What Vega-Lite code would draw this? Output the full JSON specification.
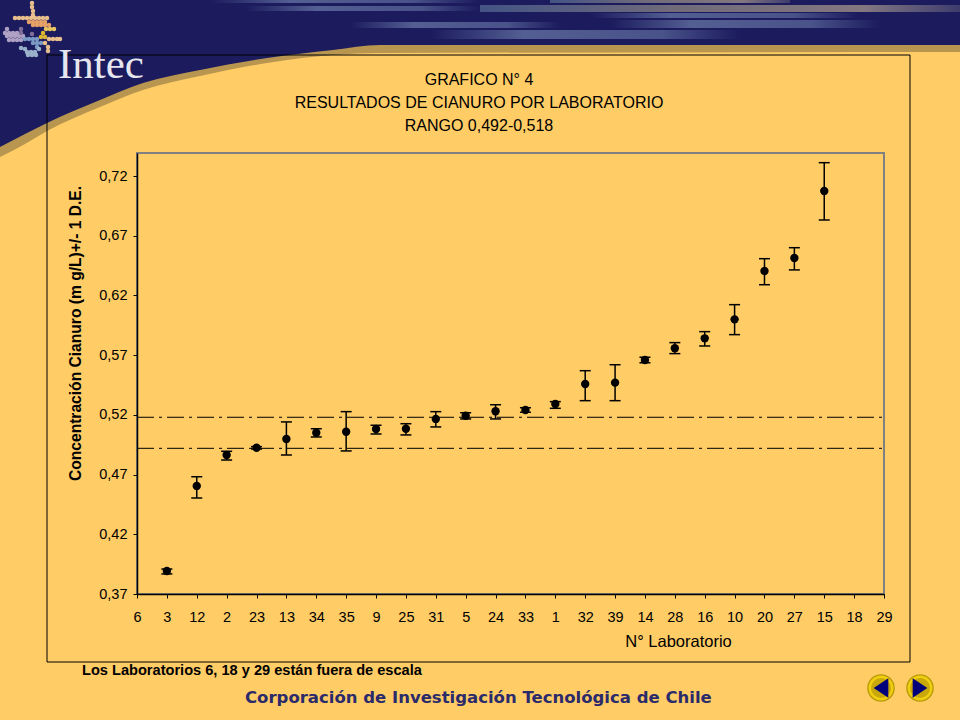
{
  "$schema": "https://vega.github.io/schema/vega-lite/v6.json",
  "autosize": {"type": "none"},
  "padding": {"left": 137, "top": 153, "right": 76, "bottom": 126},
  "width": 747,
  "height": 441,
  "background": "#FFCC66",
  "datasets": {
    "labs": [
      {"lab": "3", "conc": 0.3893, "hi": 0.3909, "lo": 0.3868},
      {"lab": "12", "conc": 0.4605, "hi": 0.4682, "lo": 0.4504},
      {"lab": "2", "conc": 0.4864, "hi": 0.4895, "lo": 0.4822},
      {"lab": "23", "conc": 0.4925, "hi": 0.4934, "lo": 0.4914},
      {"lab": "13", "conc": 0.4998, "hi": 0.5141, "lo": 0.4864},
      {"lab": "34", "conc": 0.5051, "hi": 0.5084, "lo": 0.5015},
      {"lab": "35", "conc": 0.5059, "hi": 0.5227, "lo": 0.4898},
      {"lab": "9", "conc": 0.5082, "hi": 0.5113, "lo": 0.504},
      {"lab": "25", "conc": 0.5084, "hi": 0.5126, "lo": 0.5032},
      {"lab": "31", "conc": 0.5166, "hi": 0.5227, "lo": 0.5099},
      {"lab": "5", "conc": 0.5193, "hi": 0.5218, "lo": 0.5166},
      {"lab": "24", "conc": 0.523, "hi": 0.5285, "lo": 0.5166},
      {"lab": "33", "conc": 0.5241, "hi": 0.526, "lo": 0.5222},
      {"lab": "1", "conc": 0.5291, "hi": 0.5311, "lo": 0.5255},
      {"lab": "32", "conc": 0.5459, "hi": 0.557, "lo": 0.5319},
      {"lab": "39", "conc": 0.547, "hi": 0.562, "lo": 0.5319},
      {"lab": "14", "conc": 0.566, "hi": 0.5682, "lo": 0.5637},
      {"lab": "28", "conc": 0.5758, "hi": 0.5805, "lo": 0.5713},
      {"lab": "16", "conc": 0.5841, "hi": 0.5897, "lo": 0.5777},
      {"lab": "10", "conc": 0.6, "hi": 0.6123, "lo": 0.5872},
      {"lab": "20", "conc": 0.6405, "hi": 0.6508, "lo": 0.629},
      {"lab": "27", "conc": 0.6514, "hi": 0.66, "lo": 0.6414},
      {"lab": "15", "conc": 0.7075, "hi": 0.7312, "lo": 0.6832}
    ],
    "rango": [{"limite": 0.518}, {"limite": 0.492}],
    "banner": [
      {"px": 0, "navy": 147, "sombra": 157},
      {"px": 25, "navy": 134, "sombra": 144},
      {"px": 47, "navy": 123, "sombra": 131},
      {"px": 100, "navy": 100, "sombra": 107},
      {"px": 143, "navy": 83, "sombra": 90},
      {"px": 200, "navy": 70, "sombra": 76},
      {"px": 267, "navy": 58, "sombra": 63},
      {"px": 333, "navy": 50, "sombra": 55},
      {"px": 380, "navy": 45, "sombra": 53},
      {"px": 960, "navy": 45, "sombra": 52}
    ],
    "estelas": [
      {"tono": "azul", "px": 210, "px2": 480, "py": 0, "py2": 3},
      {"tono": "azul", "px": 245, "px2": 480, "py": 6, "py2": 11},
      {"tono": "azul", "px": 350, "px2": 560, "py": 22, "py2": 28},
      {"tono": "azul", "px": 430, "px2": 740, "py": 30, "py2": 39},
      {"tono": "azul", "px": 590, "px2": 860, "py": 13, "py2": 18},
      {"tono": "azul", "px": 610, "px2": 880, "py": 20, "py2": 28},
      {"tono": "tibio", "px": 480, "px2": 960, "py": 5, "py2": 12},
      {"tono": "tibio", "px": 550, "px2": 790, "py": 0, "py2": 3}
    ],
    "marco": [{"px": 47, "px2": 910, "py": 55, "py2": 662}],
    "puntos": [
      {"px": 32, "py": 3, "tono": "durazno"}, {"px": 32, "py": 7, "tono": "durazno"},
      {"px": 33, "py": 11, "tono": "durazno"}, {"px": 33, "py": 15, "tono": "durazno"},
      {"px": 15, "py": 18, "tono": "durazno"}, {"px": 19, "py": 18, "tono": "durazno"},
      {"px": 23, "py": 18, "tono": "durazno"}, {"px": 27, "py": 18, "tono": "durazno"},
      {"px": 31, "py": 18, "tono": "durazno"}, {"px": 35, "py": 18, "tono": "durazno"},
      {"px": 39, "py": 18, "tono": "durazno"}, {"px": 43, "py": 18, "tono": "durazno"},
      {"px": 47, "py": 18, "tono": "durazno"},
      {"px": 29, "py": 22, "tono": "naranja"}, {"px": 33, "py": 22, "tono": "naranja"},
      {"px": 37, "py": 22, "tono": "naranja"}, {"px": 41, "py": 22, "tono": "naranja"},
      {"px": 45, "py": 22, "tono": "naranja"}, {"px": 33, "py": 25, "tono": "naranja"},
      {"px": 37, "py": 25, "tono": "naranja"}, {"px": 41, "py": 25, "tono": "naranja"},
      {"px": 45, "py": 25, "tono": "naranja"}, {"px": 49, "py": 25, "tono": "naranja"},
      {"px": 46, "py": 29, "tono": "amarillo"}, {"px": 50, "py": 29, "tono": "amarillo"},
      {"px": 54, "py": 29, "tono": "amarillo"},
      {"px": 7, "py": 29, "tono": "lila"}, {"px": 5, "py": 33, "tono": "lila"},
      {"px": 9, "py": 33, "tono": "lila"}, {"px": 13, "py": 33, "tono": "lila"},
      {"px": 17, "py": 33, "tono": "lila"}, {"px": 7, "py": 36, "tono": "lila"},
      {"px": 11, "py": 36, "tono": "lila"}, {"px": 15, "py": 36, "tono": "lila"},
      {"px": 19, "py": 36, "tono": "lila"}, {"px": 23, "py": 36, "tono": "lila"},
      {"px": 9, "py": 40, "tono": "lila"}, {"px": 13, "py": 40, "tono": "lila"},
      {"px": 17, "py": 40, "tono": "lila"}, {"px": 21, "py": 40, "tono": "lila"},
      {"px": 21, "py": 29, "tono": "morado"}, {"px": 21, "py": 33, "tono": "morado"},
      {"px": 32, "py": 34, "tono": "morado"},
      {"px": 25, "py": 39, "tono": "azul"}, {"px": 29, "py": 39, "tono": "azul"},
      {"px": 33, "py": 39, "tono": "azul"}, {"px": 37, "py": 39, "tono": "azul"},
      {"px": 33, "py": 43, "tono": "azul"}, {"px": 37, "py": 43, "tono": "azul"},
      {"px": 41, "py": 43, "tono": "azul"}, {"px": 37, "py": 47, "tono": "azul"},
      {"px": 43, "py": 33, "tono": "oro"}, {"px": 41, "py": 37, "tono": "oro"},
      {"px": 45, "py": 37, "tono": "oro"},
      {"px": 49, "py": 39, "tono": "durazno"}, {"px": 53, "py": 39, "tono": "durazno"},
      {"px": 57, "py": 39, "tono": "durazno"}, {"px": 60, "py": 39, "tono": "durazno"},
      {"px": 45, "py": 43, "tono": "durazno"}, {"px": 48, "py": 47, "tono": "durazno"},
      {"px": 48, "py": 51, "tono": "durazno"},
      {"px": 21, "py": 48, "tono": "celeste"}, {"px": 25, "py": 49, "tono": "celeste"},
      {"px": 27, "py": 52, "tono": "celeste"}, {"px": 31, "py": 52, "tono": "celeste"},
      {"px": 35, "py": 52, "tono": "celeste"}, {"px": 28, "py": 55, "tono": "celeste"},
      {"px": 32, "py": 55, "tono": "celeste"}, {"px": 36, "py": 55, "tono": "celeste"},
      {"px": 39, "py": 49, "tono": "celeste"}
    ],
    "botones": [
      {"px": 881, "py": 688, "dir": "anterior"},
      {"px": 920, "py": 688, "dir": "siguiente"}
    ],
    "textos": [
      {"rol": "titulo", "txt": "GRAFICO N° 4", "px": 479, "py": 80},
      {"rol": "titulo", "txt": "RESULTADOS DE CIANURO POR LABORATORIO", "px": 479, "py": 103},
      {"rol": "titulo", "txt": "RANGO 0,492-0,518", "px": 479, "py": 126},
      {"rol": "nota", "txt": "Los Laboratorios 6, 18 y 29 están fuera de escala", "px": 82, "py": 671},
      {"rol": "pie", "txt": "Corporación de Investigación Tecnológica de Chile", "px": 245, "py": 698},
      {"rol": "logo", "txt": "Intec", "px": 58, "py": 78}
    ]
  },
  "resolve": {"scale": {"x": "independent", "y": "independent"}},
  "layer": [
    {
      "encoding": {
        "x": {"field": "px", "type": "quantitative", "axis": null, "scale": {"domain": [0, 960], "range": [-137, 823]}},
        "y": {"field": "py", "type": "quantitative", "axis": null, "scale": {"domain": [0, 720], "range": [-153, 567]}}
      },
      "layer": [
        {
          "data": {"name": "banner"},
          "mark": {"type": "area", "fill": "#B89650", "interpolate": "monotone"},
          "encoding": {
            "y": {"field": "sombra", "type": "quantitative", "axis": null, "scale": {"domain": [0, 720], "range": [-153, 567]}},
            "y2": {"datum": 0}
          }
        },
        {
          "data": {"name": "banner"},
          "mark": {"type": "area", "fill": "#1B1B5E", "interpolate": "monotone"},
          "encoding": {
            "y": {"field": "navy", "type": "quantitative", "axis": null, "scale": {"domain": [0, 720], "range": [-153, 567]}},
            "y2": {"datum": 0}
          }
        },
        {
          "data": {"name": "estelas"},
          "transform": [{"filter": "datum.tono == 'azul'"}],
          "mark": {
            "type": "rect",
            "fill": {
              "gradient": "linear", "x1": 0, "x2": 1, "y1": 0, "y2": 0,
              "stops": [
                {"offset": 0, "color": "rgba(130,150,190,0)"},
                {"offset": 0.3, "color": "rgba(130,150,190,0.55)"},
                {"offset": 0.75, "color": "rgba(130,150,190,0.45)"},
                {"offset": 1, "color": "rgba(130,150,190,0)"}
              ]
            }
          },
          "encoding": {"x2": {"field": "px2"}, "y2": {"field": "py2"}}
        },
        {
          "data": {"name": "estelas"},
          "transform": [{"filter": "datum.tono == 'tibio'"}],
          "mark": {
            "type": "rect",
            "fill": {
              "gradient": "linear", "x1": 0, "x2": 1, "y1": 0, "y2": 0,
              "stops": [
                {"offset": 0, "color": "rgba(110,140,170,0.5)"},
                {"offset": 0.4, "color": "rgba(170,160,140,0.6)"},
                {"offset": 0.8, "color": "rgba(200,180,150,0.6)"},
                {"offset": 1, "color": "rgba(200,190,170,0.2)"}
              ]
            }
          },
          "encoding": {"x2": {"field": "px2"}, "y2": {"field": "py2"}}
        },
        {
          "data": {"name": "marco"},
          "mark": {"type": "rect", "fill": null, "stroke": "#000000", "strokeWidth": 1},
          "encoding": {"x2": {"field": "px2"}, "y2": {"field": "py2"}}
        },
        {
          "data": {"name": "puntos"},
          "mark": {"type": "circle", "size": 20, "opacity": 0.95},
          "encoding": {
            "color": {
              "field": "tono", "type": "nominal", "legend": null,
              "scale": {
                "domain": ["durazno", "naranja", "amarillo", "lila", "morado", "azul", "oro", "celeste"],
                "range": ["#F2C78E", "#EFA868", "#F4D060", "#B5A8C8", "#85749C", "#7FA0C8", "#E8C030", "#A0B8D0"]
              }
            }
          }
        },
        {
          "data": {"name": "botones"},
          "mark": {"type": "circle", "size": 760, "fill": "#B89A08", "opacity": 1}
        },
        {
          "data": {"name": "botones"},
          "mark": {"type": "circle", "size": 620, "fill": "#F0CE10", "opacity": 1}
        },
        {
          "data": {"name": "botones"},
          "mark": {"type": "circle", "size": 400, "fill": "#C8A80A", "opacity": 1}
        },
        {
          "data": {"name": "botones"},
          "mark": {"type": "point", "filled": true, "size": 380, "opacity": 1, "fill": "#00007A"},
          "encoding": {
            "shape": {
              "field": "dir", "type": "nominal", "legend": null,
              "scale": {
                "domain": ["anterior", "siguiente"],
                "range": ["M0.75,-1L-0.75,0L0.75,1Z", "M-0.75,-1L0.75,0L-0.75,1Z"]
              }
            }
          }
        },
        {
          "data": {"name": "textos"},
          "transform": [{"filter": "datum.rol == 'titulo'"}],
          "mark": {"type": "text", "align": "center", "baseline": "middle", "font": "Liberation Sans", "fontSize": 16, "color": "#000000"},
          "encoding": {"text": {"field": "txt"}}
        },
        {
          "data": {"name": "textos"},
          "transform": [{"filter": "datum.rol == 'nota'"}],
          "mark": {"type": "text", "align": "left", "baseline": "middle", "font": "Liberation Sans", "fontSize": 14.6, "fontWeight": "bold", "color": "#000000"},
          "encoding": {"text": {"field": "txt"}}
        },
        {
          "data": {"name": "textos"},
          "transform": [{"filter": "datum.rol == 'pie'"}],
          "mark": {"type": "text", "align": "left", "baseline": "middle", "font": "DejaVu Sans", "fontSize": 16.5, "fontWeight": "bold", "color": "#2B2B6B"},
          "encoding": {"text": {"field": "txt"}}
        },
        {
          "data": {"name": "textos"},
          "transform": [{"filter": "datum.rol == 'logo'"}],
          "mark": {"type": "text", "align": "left", "baseline": "alphabetic", "font": "Liberation Serif", "fontSize": 43, "color": "#E6E6EE"},
          "encoding": {"text": {"field": "txt"}}
        }
      ]
    },
    {
      "encoding": {
        "x": {
          "field": "lab",
          "type": "ordinal",
          "title": "N° Laboratorio",
          "scale": {
            "type": "point",
            "padding": 0,
            "domain": ["6", "3", "12", "2", "23", "13", "34", "35", "9", "25", "31", "5", "24", "33", "1", "32", "39", "14", "28", "16", "10", "20", "27", "15", "18", "29"]
          },
          "axis": {
            "labelAngle": 0,
            "labelPadding": 12,
            "labelOverlap": false,
            "labelFlush": false,
            "titleX": 541,
            "titleY": 47,
            "titleAlign": "center",
            "titleBaseline": "middle",
            "titleFontSize": 16.5
          }
        }
      },
      "layer": [
        {
          "data": {"name": "rango"},
          "mark": {"type": "rule", "color": "#000000", "strokeWidth": 1, "strokeDash": [17, 5, 3, 5]},
          "encoding": {
            "x": {"value": 0},
            "x2": {"value": 747},
            "y": {
              "field": "limite",
              "type": "quantitative",
              "title": "Concentración Cianuro (m g/L)+/- 1 D.E.",
              "scale": {"domain": [0.37, 0.7393], "nice": false, "zero": false},
              "axis": {
                "values": [0.37, 0.42, 0.47, 0.52, 0.57, 0.62, 0.67, 0.72],
                "labelExpr": "replace(format(datum.value, '.2f'), '.', ',')",
                "labelPadding": 6,
                "titleX": -62,
                "titleY": 180,
                "titleAlign": "center",
                "titleBaseline": "middle",
                "titleFontWeight": "bold",
                "titleFontSize": 15.6
              }
            }
          }
        },
        {
          "data": {"name": "labs"},
          "mark": {"type": "rule", "color": "#000000", "strokeWidth": 1.5},
          "encoding": {
            "y": {"field": "lo", "type": "quantitative"},
            "y2": {"field": "hi"}
          }
        },
        {
          "data": {"name": "labs"},
          "mark": {"type": "tick", "color": "#000000", "size": 11, "thickness": 1.5, "opacity": 1},
          "encoding": {"y": {"field": "hi", "type": "quantitative"}}
        },
        {
          "data": {"name": "labs"},
          "mark": {"type": "tick", "color": "#000000", "size": 11, "thickness": 1.5, "opacity": 1},
          "encoding": {"y": {"field": "lo", "type": "quantitative"}}
        },
        {
          "data": {"name": "labs"},
          "mark": {"type": "circle", "color": "#000000", "size": 70, "opacity": 1},
          "encoding": {"y": {"field": "conc", "type": "quantitative"}}
        }
      ]
    }
  ],
  "config": {
    "view": {"stroke": "#808080", "strokeWidth": 2},
    "axis": {
      "grid": false,
      "domainColor": "#000000",
      "domainWidth": 1.5,
      "tickColor": "#000000",
      "tickSize": 4,
      "labelFont": "Liberation Sans",
      "labelFontSize": 14.5,
      "labelColor": "#000000",
      "titleFont": "Liberation Sans",
      "titleFontSize": 15,
      "titleFontWeight": "normal",
      "titleColor": "#000000"
    }
  }
}
